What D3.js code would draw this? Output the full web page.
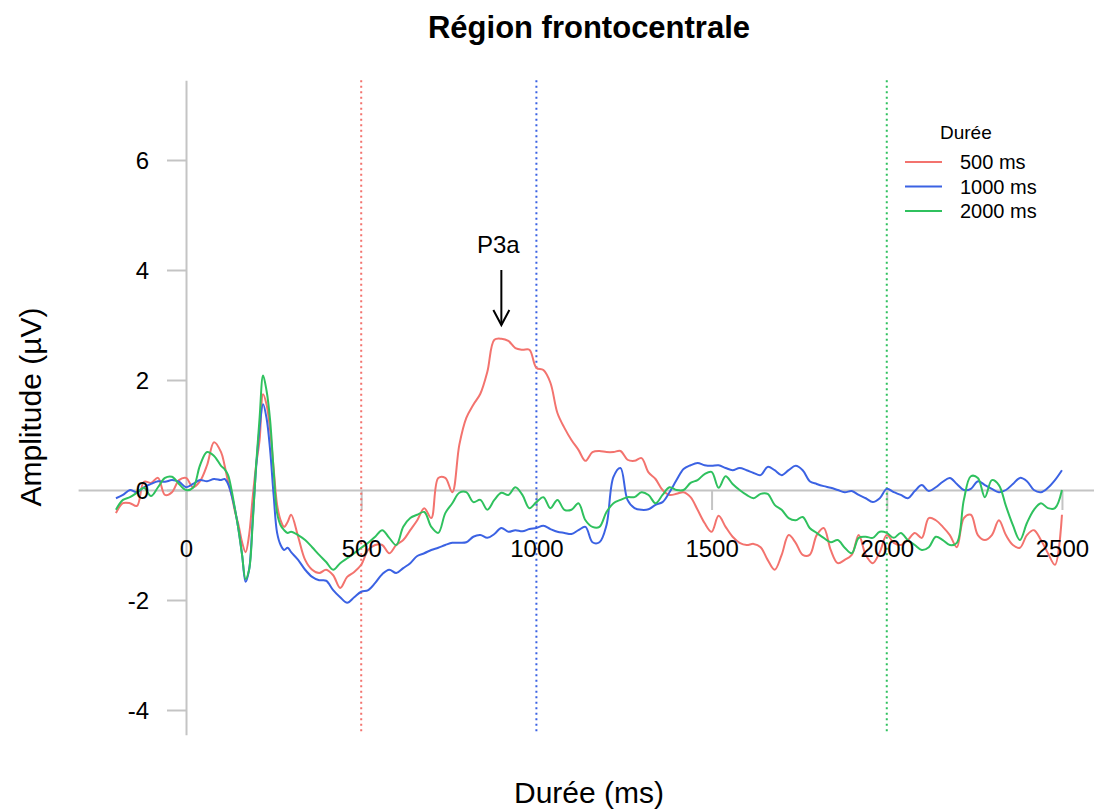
<!DOCTYPE html>
<html>
<head>
<meta charset="utf-8">
<script src="https://cdn.jsdelivr.net/npm/d3@7"></script>
<style>
  html, body { margin: 0; padding: 0; background: #ffffff; }
  svg { display: block; font-family: "Liberation Sans", Arial, sans-serif; }
</style>
</head>
<body>
<svg id="chart" width="1094" height="809"></svg>
<script>
// ---------- DATA ----------
const chartTitle = "Région frontocentrale";
const xTitle = "Durée (ms)";
const yTitle = "Amplitude (µV)";
const legendTitle = "Durée";
const seriesNames = ["500 ms", "1000 ms", "2000 ms"];
const seriesColors = ["#F3736E", "#3B62E3", "#2FC15E"];
const markerTimes = [500, 1000, 2000];   // dotted vertical lines (one per series)
const xTicks = [0, 500, 1000, 1500, 2000, 2500];
const yTicks = [-4, -2, 0, 2, 4, 6];
const annotation = { label: "P3a", t: 900, from: 4.0, to: 3.0 };

const times = [
  -200,-180,-160,-140,-120,-100,-80,-60,-40,-20,0,20,40,60,80,100,
  110,120,130,140,150,160,170,180,190,200,210,220,230,240,250,260,270,280,290,300,
  320,340,360,380,400,420,440,460,480,500,
  520,540,560,580,600,620,640,660,680,700,
  720,740,760,780,800,820,840,860,880,900,
  920,940,960,980,1000,1020,1040,1060,1080,1100,
  1120,1140,1160,1180,1200,1220,1240,1260,1280,1300,
  1320,1340,1360,1380,1400,1420,1440,1460,1480,1500,
  1520,1540,1560,1580,1600,1620,1640,1660,1680,1700,
  1720,1740,1760,1780,1800,1820,1840,1860,1880,1900,
  1920,1940,1960,1980,2000,2020,2040,2060,2080,2100,
  2120,2140,2160,2180,2200,2220,2240,2260,2280,2300,
  2320,2340,2360,2380,2400,2420,2440,2460,2480,2500
];

const amp500 = [
  -0.42,-0.24,-0.24,-0.29,0.15,0.13,0.22,-0.09,-0.04,0.18,0.22,0.05,0.16,0.45,0.87,0.69,
  0.45,0.15,-0.09,-0.40,-0.64,-0.95,-1.13,-0.82,-0.15,0.45,0.91,1.74,1.55,1.09,0.40,-0.27,-0.55,-0.67,-0.58,-0.45,
  -0.85,-1.27,-1.45,-1.51,-1.45,-1.55,-1.78,-1.58,-1.49,-1.36,
  -1.09,-1.00,-1.00,-1.15,-1.00,-0.91,-0.73,-0.55,-0.33,-0.51,
  0.22,0.22,-0.04,0.82,1.31,1.55,1.75,2.15,2.73,2.75,
  2.71,2.58,2.55,2.55,2.22,2.18,1.95,1.40,1.13,0.91,
  0.73,0.53,0.69,0.71,0.69,0.69,0.71,0.55,0.53,0.58,
  0.32,0.20,0.00,-0.09,-0.07,-0.04,-0.13,-0.36,-0.60,-0.76,
  -0.47,-0.67,-0.85,-0.96,-1.00,-0.98,-1.04,-1.27,-1.45,-1.18,
  -0.82,-0.96,-1.18,-1.18,-0.82,-0.69,-1.09,-1.33,-1.27,-1.18,
  -0.82,-1.18,-1.33,-1.13,-0.82,-0.96,-1.00,-0.91,-0.78,-0.87,
  -0.51,-0.55,-0.67,-0.82,-1.04,-0.51,-0.45,-0.82,-0.91,-0.82,
  -0.55,-0.82,-1.00,-1.05,-0.82,-0.73,-0.91,-1.15,-1.36,-0.45
];

const amp1000 = [
  -0.15,-0.09,0.00,-0.04,0.05,0.11,0.16,0.15,0.18,0.15,0.05,0.11,0.18,0.16,0.20,0.18,
  0.20,0.11,-0.09,-0.36,-0.73,-1.18,-1.67,-1.45,-0.58,0.40,1.13,1.56,1.30,0.73,-0.09,-0.78,-1.00,-1.09,-1.05,-1.13,
  -1.27,-1.45,-1.58,-1.64,-1.65,-1.82,-1.95,-2.05,-1.95,-1.85,
  -1.82,-1.69,-1.53,-1.45,-1.51,-1.42,-1.33,-1.20,-1.15,-1.09,
  -1.05,-1.00,-0.96,-0.96,-0.95,-0.85,-0.82,-0.87,-0.80,-0.69,
  -0.76,-0.73,-0.75,-0.71,-0.69,-0.65,-0.71,-0.76,-0.78,-0.80,
  -0.73,-0.67,-0.95,-0.95,-0.64,0.24,0.40,-0.18,-0.33,-0.36,
  -0.35,-0.27,-0.22,-0.04,0.18,0.38,0.45,0.49,0.45,0.44,
  0.45,0.40,0.36,0.40,0.36,0.31,0.27,0.42,0.36,0.27,
  0.36,0.44,0.36,0.16,0.11,0.07,0.04,0.00,-0.04,-0.02,
  -0.09,-0.15,-0.22,-0.15,0.02,-0.04,-0.09,-0.15,-0.02,0.09,
  -0.02,0.05,0.15,0.22,0.11,0.00,0.02,0.16,0.09,0.02,
  -0.04,0.00,0.11,0.22,0.16,0.00,-0.04,0.04,0.18,0.36
];

const amp2000 = [
  -0.36,-0.18,-0.13,-0.05,0.04,-0.11,0.05,0.22,0.24,0.11,0.00,0.04,0.45,0.69,0.62,0.44,
  0.38,0.27,0.00,-0.36,-0.73,-1.18,-1.62,-1.45,-0.64,0.45,1.31,2.08,1.80,1.27,0.36,-0.42,-0.64,-0.73,-0.78,-0.76,
  -0.82,-0.91,-1.04,-1.18,-1.31,-1.45,-1.33,-1.24,-1.15,-1.05,
  -0.96,-0.85,-0.73,-0.87,-1.00,-0.67,-0.51,-0.45,-0.40,-0.67,
  -0.78,-0.42,-0.24,-0.05,-0.04,-0.22,-0.18,-0.36,-0.18,-0.05,
  -0.09,0.05,-0.09,-0.33,-0.22,-0.13,-0.33,-0.18,-0.36,-0.36,
  -0.24,-0.55,-0.67,-0.67,-0.40,-0.24,-0.18,-0.13,-0.13,-0.04,
  -0.09,-0.24,-0.09,0.05,0.00,0.00,0.13,0.18,0.29,0.33,
  0.04,0.25,0.11,0.00,-0.09,-0.15,-0.07,-0.07,-0.27,-0.36,
  -0.51,-0.55,-0.49,-0.69,-0.78,-0.87,-0.95,-0.91,-1.05,-1.15,
  -0.87,-0.85,-0.87,-0.76,-0.78,-0.87,-0.78,-0.91,-1.00,-1.09,
  -1.04,-0.85,-0.91,-1.00,-0.96,-0.18,0.25,0.22,-0.13,0.18,
  0.09,-0.29,-0.64,-0.91,-0.60,-0.36,-0.24,-0.33,-0.33,0.00
];

const seriesValues = [amp500, amp1000, amp2000];

// ---------- CHART ----------
const svg = d3.select("#chart");
const x = d3.scaleLinear().domain([-308, 2608]).range([78.1, 1099.8]);
const y = d3.scaleLinear().domain([-4.45, 7.45]).range([734.75, 80.25]);
const axisGrey = "#c4c4c4";
const fmt = d => String(d);

// plot clip
svg.append("defs").append("clipPath").attr("id", "plotclip")
  .append("rect").attr("x", x(-308)).attr("y", y(7.45))
  .attr("width", x(2608) - x(-308)).attr("height", y(-4.45) - y(7.45));

// Axes (lines + ticks)
const xAxis = d3.axisBottom(x).tickValues(xTicks).tickSize(20).tickSizeOuter(0).tickFormat("");
const gx = svg.append("g").attr("transform", `translate(0,${y(0)})`).call(xAxis);
const yAxis = d3.axisLeft(y).tickValues(yTicks).tickSize(19).tickSizeOuter(0).tickFormat("");
const gy = svg.append("g").attr("transform", `translate(${x(0)},0)`).call(yAxis);
[gx, gy].forEach(g => {
  g.select(".domain").attr("stroke", axisGrey).attr("stroke-width", 2);
  g.selectAll(".tick line").attr("stroke", axisGrey).attr("stroke-width", 2);
});

// dotted markers
svg.append("g").selectAll("line").data(markerTimes).join("line")
  .attr("x1", d => x(d)).attr("x2", d => x(d))
  .attr("y1", y(7.45)).attr("y2", y(-4.45))
  .attr("stroke", (d, i) => seriesColors[i])
  .attr("stroke-width", 2)
  .attr("stroke-dasharray", "2,3.5");

// series lines
const line = d3.line()
  .x((d, i) => x(times[i]))
  .y(d => y(d))
  .curve(d3.curveCatmullRom.alpha(0.5));

svg.append("g").attr("clip-path", "url(#plotclip)")
  .selectAll("path").data(seriesValues).join("path")
  .attr("d", d => line(d))
  .attr("fill", "none")
  .attr("stroke", (d, i) => seriesColors[i])
  .attr("stroke-width", 2)
  .attr("stroke-linejoin", "round");

// tick labels on top
const xLab = d3.axisBottom(x).tickValues(xTicks).tickSize(0).tickPadding(50).tickFormat(fmt);
const gxl = svg.append("g").attr("transform", `translate(0,${y(0)})`).call(xLab);
const yLab = d3.axisLeft(y).tickValues(yTicks).tickSize(0).tickPadding(37).tickFormat(fmt);
const gyl = svg.append("g").attr("transform", `translate(${x(0)},0)`).call(yLab);
[gxl, gyl].forEach(g => {
  g.select(".domain").remove();
  g.selectAll("text").attr("font-size", 24).attr("fill", "#000")
    .attr("font-family", "Liberation Sans, Arial, sans-serif");
});
gyl.selectAll("text").attr("dy", "0.36em");

// annotation
const ax = x(annotation.t);
svg.append("text").attr("x", ax - 3).attr("y", y(annotation.from) - 17)
  .attr("text-anchor", "middle").attr("font-size", 24).text(annotation.label);
svg.append("line").attr("x1", ax).attr("x2", ax)
  .attr("y1", y(annotation.from)).attr("y2", y(annotation.to))
  .attr("stroke", "#000").attr("stroke-width", 2);
svg.append("path")
  .attr("d", `M${ax - 8},${y(annotation.to) - 15} L${ax},${y(annotation.to)} L${ax + 8},${y(annotation.to) - 15}`)
  .attr("fill", "none").attr("stroke", "#000").attr("stroke-width", 2);

// titles
svg.append("text").attr("x", 589).attr("y", 38).attr("text-anchor", "middle")
  .attr("font-size", 31).attr("font-weight", "bold").text(chartTitle);
svg.append("text").attr("x", 589).attr("y", 803).attr("text-anchor", "middle")
  .attr("font-size", 30).text(xTitle);
svg.append("text").attr("transform", "translate(41,407) rotate(-90)")
  .attr("text-anchor", "middle").attr("font-size", 30).text(yTitle);

// legend
const lg = svg.append("g");
lg.append("text").attr("x", 940).attr("y", 139).attr("font-size", 19).text(legendTitle);
seriesNames.forEach((name, i) => {
  const ly = 162 + i * 24.5;
  lg.append("line").attr("x1", 905).attr("x2", 942).attr("y1", ly).attr("y2", ly)
    .attr("stroke", seriesColors[i]).attr("stroke-width", 2);
  lg.append("text").attr("x", 960).attr("y", ly + 7).attr("font-size", 20).text(name);
});
</script>
</body>
</html>
